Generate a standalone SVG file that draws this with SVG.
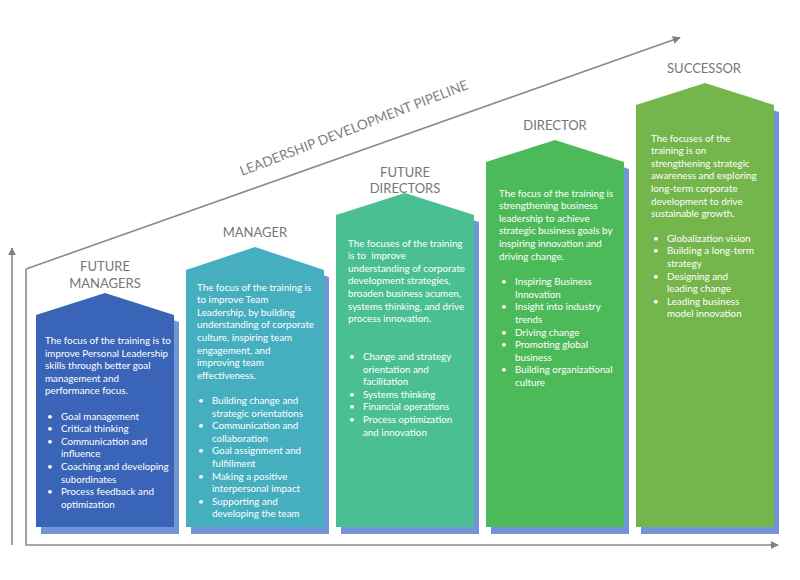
<svg xmlns="http://www.w3.org/2000/svg" xmlns:xlink="http://www.w3.org/1999/xlink" width="800" height="580" viewBox="0 0 800 580">
  <defs>
    <marker id="arr" viewBox="0 0 10 10" refX="9" refY="5" markerWidth="5" markerHeight="5" orient="auto" markerUnits="strokeWidth">
      <path d="M0,0 L10,5 L0,10 z" fill="#808080"/>
    </marker>
    <style>
      .ax{fill:none;stroke:#8a8a8a;stroke-width:1.6}
      .sh{fill:#7096d6}
      .ttl{font-family:Lato,"Liberation Sans",sans-serif;font-size:13px;fill:#767676;text-anchor:middle}
      .pipe{font-family:Lato,"Liberation Sans",sans-serif;font-size:13.6px;fill:#7f7f7f}
      .bd{font-family:Lato,"Liberation Sans",sans-serif;font-size:9.8px;fill:#ffffff}
    </style>
  </defs>
  <rect width="800" height="580" fill="#ffffff"/>

  <g id="connectors">
    <line class="ax" x1="12" y1="545" x2="12" y2="248" marker-end="url(#arr)"/>
    <line class="ax" x1="26" y1="269" x2="680" y2="37.5" marker-end="url(#arr)"/>
    <polyline class="ax" points="26,269 26,545 778,545" marker-end="url(#arr)"/>
    <text class="pipe" transform="translate(242,176) rotate(-21)">LEADERSHIP DEVELOPMENT PIPELINE</text>
  </g>

  <g id="future-managers">
    <polygon class="sh" points="41,322 110,300 179,322 179,534 41,534"/>
    <polygon fill="#3a64b7" points="36,315 105,293 174,315 174,527 36,527"/>
    <text class="ttl" x="105" y="271">FUTURE</text>
    <text class="ttl" x="105" y="288">MANAGERS</text>
    <text class="bd" x="45" y="344">
      <tspan x="45">The focus of the training is to</tspan>
      <tspan x="45" dy="12.6">improve Personal Leadership</tspan>
      <tspan x="45" dy="12.6">skills through better goal</tspan>
      <tspan x="45" dy="12.6">management and</tspan>
      <tspan x="45" dy="12.6">performance focus.</tspan>
    </text>
    <text class="bd" y="419.6">
      <tspan x="47">•</tspan><tspan x="61">Goal management</tspan>
      <tspan x="47" dy="12.6">•</tspan><tspan x="61">Critical thinking</tspan>
      <tspan x="47" dy="12.6">•</tspan><tspan x="61">Communication and</tspan>
      <tspan x="61" dy="12.6">influence</tspan>
      <tspan x="47" dy="12.6">•</tspan><tspan x="61">Coaching and developing</tspan>
      <tspan x="61" dy="12.6">subordinates</tspan>
      <tspan x="47" dy="12.6">•</tspan><tspan x="61">Process feedback and</tspan>
      <tspan x="61" dy="12.6">optimization</tspan>
    </text>
  </g>

  <g id="manager">
    <polygon class="sh" points="191,277 260,254 329,277 329,534 191,534"/>
    <polygon fill="#45afbf" points="186,270 255,247 324,270 324,527 186,527"/>
    <text class="ttl" x="255" y="237">MANAGER</text>
    <text class="bd" y="290.5">
      <tspan x="197">The focus of the training is</tspan>
      <tspan x="197" dy="12.6">to improve Team</tspan>
      <tspan x="197" dy="12.6">Leadership, by building</tspan>
      <tspan x="197" dy="12.6">understanding of corporate</tspan>
      <tspan x="197" dy="12.6">culture, inspiring team</tspan>
      <tspan x="197" dy="12.6">engagement, and</tspan>
      <tspan x="197" dy="12.6">improving team</tspan>
      <tspan x="197" dy="12.6">effectiveness.</tspan>
    </text>
    <text class="bd" y="403.9">
      <tspan x="198">•</tspan><tspan x="212">Building change and</tspan>
      <tspan x="212" dy="12.6">strategic orientations</tspan>
      <tspan x="198" dy="12.6">•</tspan><tspan x="212">Communication and</tspan>
      <tspan x="212" dy="12.6">collaboration</tspan>
      <tspan x="198" dy="12.6">•</tspan><tspan x="212">Goal assignment and</tspan>
      <tspan x="212" dy="12.6">fulfillment</tspan>
      <tspan x="198" dy="12.6">•</tspan><tspan x="212">Making a positive</tspan>
      <tspan x="212" dy="12.6">interpersonal impact</tspan>
      <tspan x="198" dy="12.6">•</tspan><tspan x="212">Supporting and</tspan>
      <tspan x="212" dy="12.6">developing the team</tspan>
    </text>
  </g>

  <g id="future-directors">
    <polygon class="sh" points="341,222 410,200 479,222 479,534 341,534"/>
    <polygon fill="#4abf94" points="336,215 405,193 474,215 474,527 336,527"/>
    <text class="ttl" x="405" y="177">FUTURE</text>
    <text class="ttl" x="405" y="193">DIRECTORS</text>
    <text class="bd" y="246.5" xml:space="preserve"><tspan x="348">The focuses of the training</tspan><tspan x="348" dy="12.6">is to  improve</tspan><tspan x="348" dy="12.6">understanding of corporate</tspan><tspan x="348" dy="12.6">development strategies,</tspan><tspan x="348" dy="12.6">broaden business acumen,</tspan><tspan x="348" dy="12.6">systems thinking, and drive</tspan><tspan x="348" dy="12.6">process innovation.</tspan></text>
    <text class="bd" y="360">
      <tspan x="349">•</tspan><tspan x="363">Change and strategy</tspan>
      <tspan x="363" dy="12.6">orientation and</tspan>
      <tspan x="363" dy="12.6">facilitation</tspan>
      <tspan x="349" dy="12.6">•</tspan><tspan x="363">Systems thinking</tspan>
      <tspan x="349" dy="12.6">•</tspan><tspan x="363">Financial operations</tspan>
      <tspan x="349" dy="12.6">•</tspan><tspan x="363">Process optimization</tspan>
      <tspan x="363" dy="12.6">and innovation</tspan>
    </text>
  </g>

  <g id="director">
    <polygon class="sh" points="491,169 560,147 629,169 629,534 491,534"/>
    <polygon fill="#4dba5a" points="486,162 555,140 624,162 624,527 486,527"/>
    <text class="ttl" x="555" y="130">DIRECTOR</text>
    <text class="bd" y="196.5">
      <tspan x="499">The focus of the training is</tspan>
      <tspan x="499" dy="12.6">strengthening business</tspan>
      <tspan x="499" dy="12.6">leadership to achieve</tspan>
      <tspan x="499" dy="12.6">strategic business goals by</tspan>
      <tspan x="499" dy="12.6">inspiring innovation and</tspan>
      <tspan x="499" dy="12.6">driving change.</tspan>
    </text>
    <text class="bd" y="285.2">
      <tspan x="501">•</tspan><tspan x="515">Inspiring Business</tspan>
      <tspan x="515" dy="12.6">Innovation</tspan>
      <tspan x="501" dy="12.6">•</tspan><tspan x="515">Insight into industry</tspan>
      <tspan x="515" dy="12.6">trends</tspan>
      <tspan x="501" dy="12.6">•</tspan><tspan x="515">Driving change</tspan>
      <tspan x="501" dy="12.6">•</tspan><tspan x="515">Promoting global</tspan>
      <tspan x="515" dy="12.6">business</tspan>
      <tspan x="501" dy="12.6">•</tspan><tspan x="515">Building organizational</tspan>
      <tspan x="515" dy="12.6">culture</tspan>
    </text>
  </g>

  <g id="successor">
    <polygon class="sh" points="641,112 710,90 779,112 779,534 641,534"/>
    <polygon fill="#74b54c" points="636,105 705,83 774,105 774,527 636,527"/>
    <text class="ttl" x="704" y="73">SUCCESSOR</text>
    <text class="bd" y="141.5">
      <tspan x="651">The focuses of the</tspan>
      <tspan x="651" dy="12.6">training is on</tspan>
      <tspan x="651" dy="12.6">strengthening strategic</tspan>
      <tspan x="651" dy="12.6">awareness and exploring</tspan>
      <tspan x="651" dy="12.6">long-term corporate</tspan>
      <tspan x="651" dy="12.6">development to drive</tspan>
      <tspan x="651" dy="12.6">sustainable growth.</tspan>
    </text>
    <text class="bd" y="241.8">
      <tspan x="653">•</tspan><tspan x="667">Globalization vision</tspan>
      <tspan x="653" dy="12.6">•</tspan><tspan x="667">Building a long-term</tspan>
      <tspan x="667" dy="12.6">strategy</tspan>
      <tspan x="653" dy="12.6">•</tspan><tspan x="667">Designing and</tspan>
      <tspan x="667" dy="12.6">leading change</tspan>
      <tspan x="653" dy="12.6">•</tspan><tspan x="667">Leading business</tspan>
      <tspan x="667" dy="12.6">model innovation</tspan>
    </text>
  </g>
</svg>
